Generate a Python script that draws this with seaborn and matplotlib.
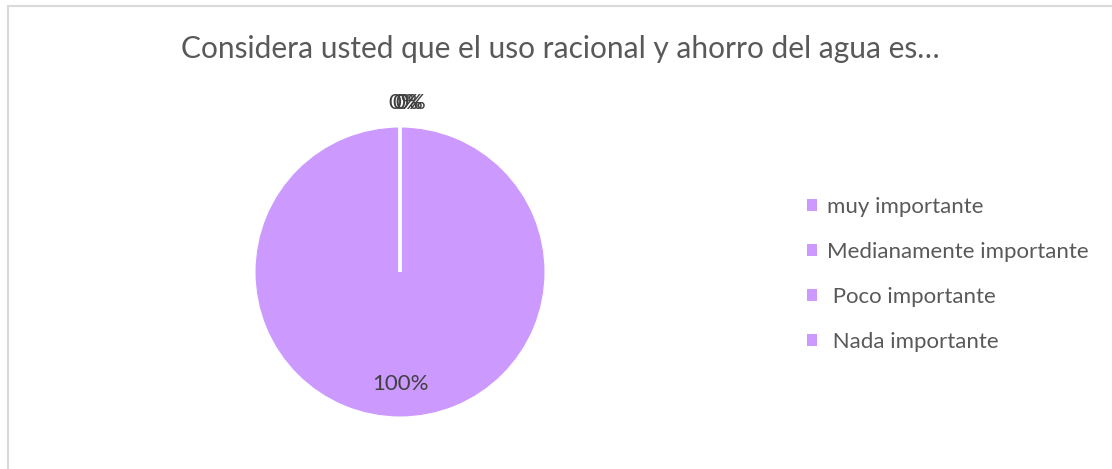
import matplotlib
matplotlib.use("Agg")
import matplotlib.pyplot as plt
from matplotlib.patches import Patch
from matplotlib.lines import Line2D
import numpy as np
import seaborn as sns

# Survey answers and their shares (percent)
categories = ["muy importante", "Medianamente importante", " Poco importante", " Nada importante"]
shares = [100, 0, 0, 0]
title = "Considera usted que el uso racional y ahorro del agua es…"

sns.set_theme(style="white")
plt.rcParams["font.family"] = ["Lato", "DejaVu Sans"]

purple = "#CC99FF"
text_grey = "#595959"
label_grey = "#404040"
colors = [purple] * len(categories)

W, H = 1112, 469
fig = plt.figure(figsize=(W / 100, H / 100), dpi=100)
fig.patch.set_facecolor("white")

# Outer chart frame (top and left edges visible)
frame_kw = dict(color="#d9d9d9", lw=1.5, transform=fig.transFigure)
fig.add_artist(Line2D([7.5 / W, 7.5 / W], [0, 1 - 6 / H], **frame_kw))
fig.add_artist(Line2D([7.5 / W, 1], [1 - 6 / H, 1 - 6 / H], **frame_kw))

fig.text(560 / W, 1 - 49 / H, title, ha="center", va="center", fontsize=21.5, color=text_grey)

# Pie axes: circle centred at (400, 272) px with radius 146 px
cx, cy, r = 400, 272, 146
ax = fig.add_axes([(cx - r) / W, (H - cy - r) / H, 2 * r / W, 2 * r / H])
wedges, _, autotexts = ax.pie(
    shares,
    colors=colors,
    startangle=90,
    counterclock=False,
    autopct="%1.0f%%",
    pctdistance=0.77,
    wedgeprops=dict(edgecolor="white", linewidth=2.2),
    textprops=dict(color=label_grey, fontsize=16),
)
ax.set_xlim(-1, 1)
ax.set_ylim(-1, 1)
ax.set_aspect("equal")
ax.axis("off")

# Zero-share labels sit just outside the rim, stacked on top of each other
k = 0
for w, t, v in zip(wedges, autotexts, shares):
    t.set_clip_on(False)
    if v == 0:
        ang = np.deg2rad((w.theta1 + w.theta2) / 2)
        t.set_position((1.16 * np.cos(ang) + 0.025 + 0.025 * k, 1.16 * np.sin(ang)))
        k += 1

handles = [Patch(facecolor=c, edgecolor="none") for c in colors]
fig.legend(
    handles,
    categories,
    loc="upper left",
    bbox_to_anchor=(787 / W, 1 - 177 / H),
    frameon=False,
    fontsize=16,
    labelcolor=text_grey,
    handlelength=0.45,
    handleheight=0.45,
    handletextpad=0.45,
    labelspacing=1.12,
)

fig.savefig("out.png", dpi=100, facecolor="white")
